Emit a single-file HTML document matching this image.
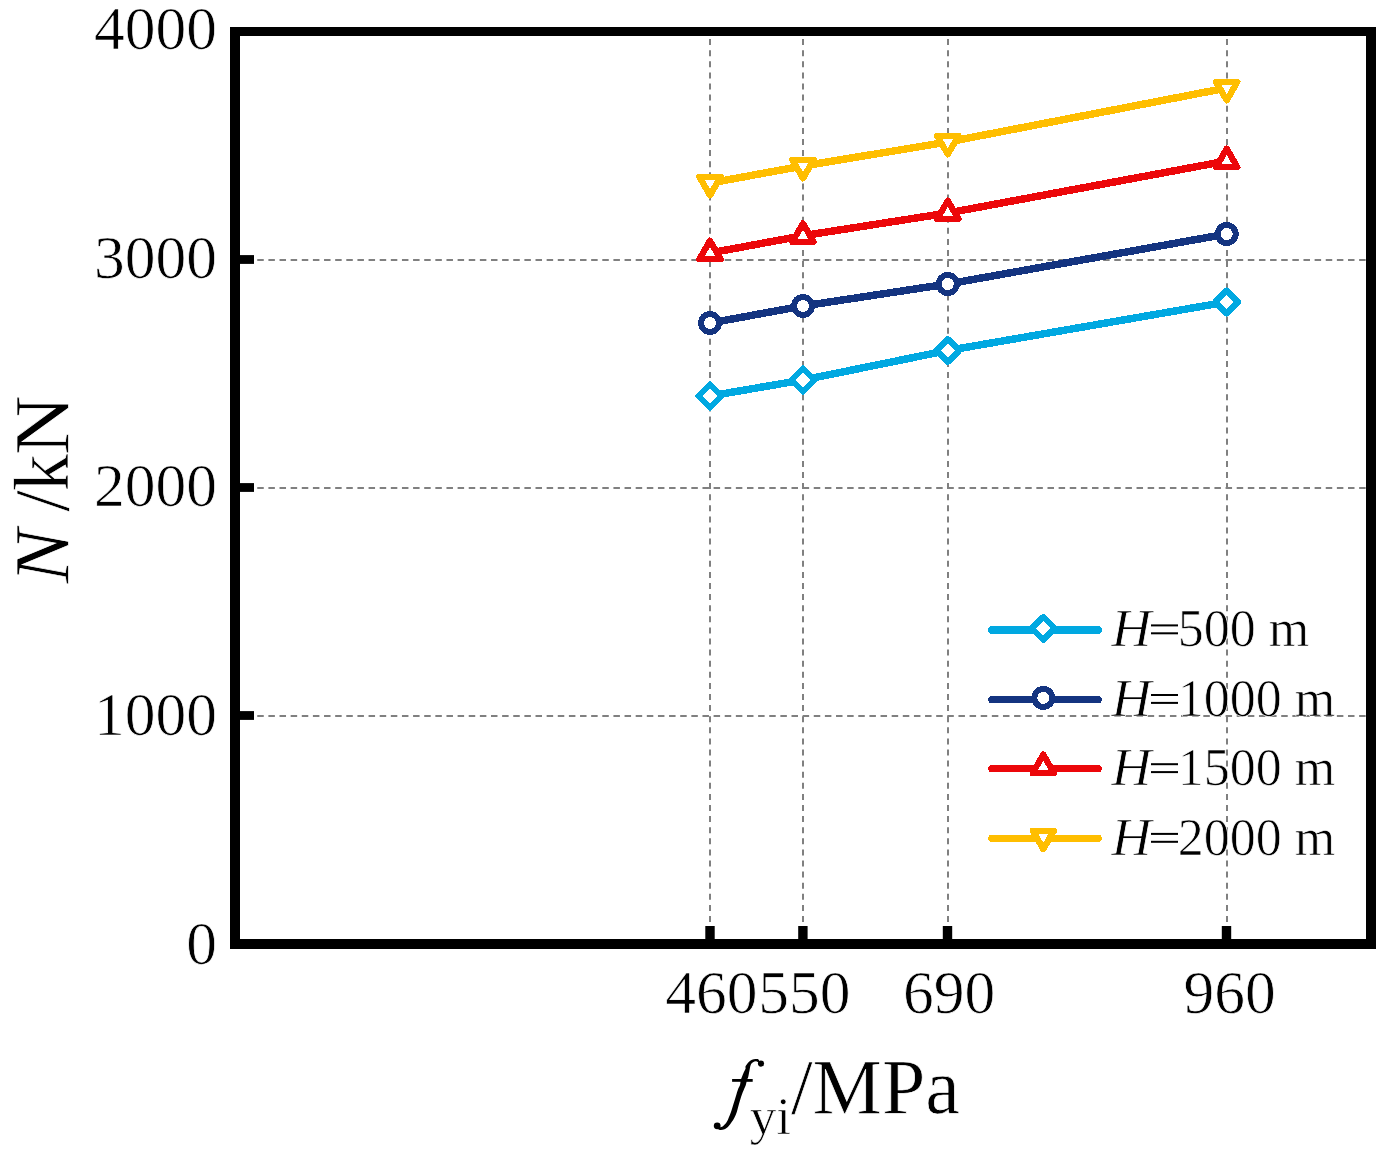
<!DOCTYPE html><html><head><meta charset="utf-8"><style>
html,body{margin:0;padding:0;background:#fff;}
svg{display:block;}
text{font-family:"Liberation Serif",serif;fill:#000;stroke:#fff;stroke-width:0.7px;}
</style></head><body>
<svg width="1391" height="1161" viewBox="0 0 1391 1161">
<g stroke="#808080" stroke-width="2" fill="none"><line x1="235" y1="260" x2="1366" y2="260" stroke-dasharray="6.5 4.63"/><line x1="235" y1="488" x2="1366" y2="488" stroke-dasharray="6.5 4.63"/><line x1="235" y1="716" x2="1366" y2="716" stroke-dasharray="6.5 4.63"/><line x1="710" y1="39.1" x2="710" y2="939" stroke-dasharray="6 5.1"/><line x1="803" y1="39.1" x2="803" y2="939" stroke-dasharray="6 5.1"/><line x1="948" y1="39.1" x2="948" y2="939" stroke-dasharray="6 5.1"/><line x1="1227" y1="39.1" x2="1227" y2="939" stroke-dasharray="6 5.1"/></g>
<polyline points="710.00,396.00 803.00,380.00 947.80,350.50 1226.70,302.00" fill="none" stroke="#00a8e1" stroke-width="7.5" stroke-linejoin="round" shape-rendering="crispEdges"/>
<polyline points="710.00,323.00 803.00,306.00 947.80,284.00 1226.70,234.00" fill="none" stroke="#143480" stroke-width="7.5" stroke-linejoin="round" shape-rendering="crispEdges"/>
<polyline points="710.00,253.00 803.00,235.70 947.80,213.00 1226.70,161.00" fill="none" stroke="#ec070a" stroke-width="7.5" stroke-linejoin="round" shape-rendering="crispEdges"/>
<polyline points="710.00,183.00 803.00,166.00 947.80,142.00 1226.70,88.00" fill="none" stroke="#ffbe00" stroke-width="7.5" stroke-linejoin="round" shape-rendering="crispEdges"/>
<path d="M710.00 384.50L721.50 396.00L710.00 407.50L698.50 396.00Z" fill="#fff" stroke="#00a8e1" stroke-width="6" stroke-linejoin="round" shape-rendering="crispEdges"/>
<path d="M803.00 368.50L814.50 380.00L803.00 391.50L791.50 380.00Z" fill="#fff" stroke="#00a8e1" stroke-width="6" stroke-linejoin="round" shape-rendering="crispEdges"/>
<path d="M947.80 339.00L959.30 350.50L947.80 362.00L936.30 350.50Z" fill="#fff" stroke="#00a8e1" stroke-width="6" stroke-linejoin="round" shape-rendering="crispEdges"/>
<path d="M1226.70 290.50L1238.20 302.00L1226.70 313.50L1215.20 302.00Z" fill="#fff" stroke="#00a8e1" stroke-width="6" stroke-linejoin="round" shape-rendering="crispEdges"/>
<circle cx="710.00" cy="323.00" r="9" fill="#fff" stroke="#143480" stroke-width="6" shape-rendering="crispEdges"/>
<circle cx="803.00" cy="306.00" r="9" fill="#fff" stroke="#143480" stroke-width="6" shape-rendering="crispEdges"/>
<circle cx="947.80" cy="284.00" r="9" fill="#fff" stroke="#143480" stroke-width="6" shape-rendering="crispEdges"/>
<circle cx="1226.70" cy="234.00" r="9" fill="#fff" stroke="#143480" stroke-width="6" shape-rendering="crispEdges"/>
<path d="M710.00 240.70L720.65 259.15L699.35 259.15Z" fill="#fff" stroke="#ec070a" stroke-width="6.3" stroke-linejoin="round" shape-rendering="crispEdges"/>
<path d="M803.00 223.40L813.65 241.85L792.35 241.85Z" fill="#fff" stroke="#ec070a" stroke-width="6.3" stroke-linejoin="round" shape-rendering="crispEdges"/>
<path d="M947.80 200.70L958.45 219.15L937.15 219.15Z" fill="#fff" stroke="#ec070a" stroke-width="6.3" stroke-linejoin="round" shape-rendering="crispEdges"/>
<path d="M1226.70 148.70L1237.35 167.15L1216.05 167.15Z" fill="#fff" stroke="#ec070a" stroke-width="6.3" stroke-linejoin="round" shape-rendering="crispEdges"/>
<path d="M710.00 195.30L720.65 176.85L699.35 176.85Z" fill="#fff" stroke="#ffbe00" stroke-width="6.3" stroke-linejoin="round" shape-rendering="crispEdges"/>
<path d="M803.00 178.30L813.65 159.85L792.35 159.85Z" fill="#fff" stroke="#ffbe00" stroke-width="6.3" stroke-linejoin="round" shape-rendering="crispEdges"/>
<path d="M947.80 154.30L958.45 135.85L937.15 135.85Z" fill="#fff" stroke="#ffbe00" stroke-width="6.3" stroke-linejoin="round" shape-rendering="crispEdges"/>
<path d="M1226.70 100.30L1237.35 81.85L1216.05 81.85Z" fill="#fff" stroke="#ffbe00" stroke-width="6.3" stroke-linejoin="round" shape-rendering="crispEdges"/>
<g fill="#000">
<rect x="230" y="27" width="1146" height="9"/>
<rect x="230" y="939" width="1146" height="10"/>
<rect x="230" y="27" width="10" height="922"/>
<rect x="1366" y="27" width="10" height="922"/>
<rect x="240" y="255.10" width="14" height="8.8"/>
<rect x="240" y="483.10" width="14" height="8.8"/>
<rect x="240" y="711.10" width="14" height="8.8"/>
<rect x="705.30" y="926" width="9.4" height="13"/>
<rect x="798.20" y="926" width="9.4" height="13"/>
<rect x="942.80" y="926" width="9.4" height="13"/>
<rect x="1221.80" y="926" width="9.4" height="13"/>
</g>
<text x="217" y="964.20" font-size="61.5" text-anchor="end">0</text>
<text x="217" y="735.20" font-size="61.5" text-anchor="end">1000</text>
<text x="217" y="506.20" font-size="61.5" text-anchor="end">2000</text>
<text x="217" y="278.10" font-size="61.5" text-anchor="end">3000</text>
<text x="217" y="49.20" font-size="61.5" text-anchor="end">4000</text>
<text x="711.30" y="1012.8" font-size="61.5" text-anchor="middle">460</text>
<text x="804.30" y="1012.8" font-size="61.5" text-anchor="middle">550</text>
<text x="949.00" y="1012.8" font-size="61.5" text-anchor="middle">690</text>
<text x="1229.50" y="1012.8" font-size="61.5" text-anchor="middle">960</text>
<g transform="translate(68.4,584) rotate(-90)"><text transform="translate(0.58,0) scale(1.05,1)" font-size="78" font-style="italic">N</text><text transform="translate(72.2,0) scale(1.0,1)" font-size="78" font-style="normal">/</text><text transform="translate(92.7,0) scale(0.955,1)" font-size="78" font-style="normal">k</text><text transform="translate(128.8,0) scale(1.067,1)" font-size="78" font-style="normal">N</text></g>
<text x="712" y="1112.5" font-size="78"><tspan font-style="italic" fill="transparent">f</tspan><tspan font-size="53" dx="16" dy="21">yi</tspan><tspan dy="-21">/MPa</tspan></text>
<path d="M745.50 1066.50C745.98 1065.43 747.42 1063.32 748.50 1062.20C749.58 1061.08 750.83 1060.33 752.00 1059.80C753.17 1059.27 754.42 1059.07 755.50 1059.00C756.58 1058.93 757.83 1058.82 758.50 1059.40C759.17 1059.98 759.92 1062.18 759.50 1062.50C759.08 1062.82 757.08 1061.33 756.00 1061.30C754.92 1061.27 753.88 1061.68 753.00 1062.30C752.12 1062.92 751.30 1063.55 750.70 1065.00C750.10 1066.45 749.82 1069.00 749.40 1071.00C748.98 1073.00 748.60 1075.50 748.20 1077.00C747.80 1078.50 747.40 1078.68 747.00 1080.00C746.60 1081.32 746.27 1083.43 745.80 1084.90C745.33 1086.37 744.97 1086.87 744.20 1088.80C743.43 1090.73 742.08 1093.92 741.20 1096.50C740.32 1099.08 739.63 1101.72 738.90 1104.30C738.17 1106.88 737.53 1109.82 736.80 1112.00C736.07 1114.18 735.35 1115.72 734.50 1117.40C733.65 1119.08 732.70 1120.62 731.70 1122.10C730.70 1123.58 729.70 1125.10 728.50 1126.30C727.30 1127.50 725.92 1128.68 724.50 1129.30C723.08 1129.92 721.17 1130.13 720.00 1130.00C718.83 1129.87 717.58 1128.93 717.50 1128.50C717.42 1128.07 718.58 1127.78 719.50 1127.40C720.42 1127.02 721.80 1127.08 723.00 1126.20C724.20 1125.32 725.73 1123.57 726.70 1122.10C727.67 1120.63 728.08 1119.08 728.80 1117.40C729.52 1115.72 730.23 1114.18 731.00 1112.00C731.77 1109.82 732.60 1106.88 733.40 1104.30C734.20 1101.72 735.00 1099.08 735.80 1096.50C736.60 1093.92 737.50 1090.73 738.20 1088.80C738.90 1086.87 739.57 1086.37 740.00 1084.90C740.43 1083.43 740.48 1081.32 740.80 1080.00C741.12 1078.68 741.47 1078.12 741.90 1077.00C742.33 1075.88 742.78 1074.70 743.40 1073.30C744.02 1071.90 745.25 1069.73 745.60 1068.60C745.95 1067.47 745.02 1067.57 745.50 1066.50Z" fill="#000"/><circle cx="761" cy="1063.6" r="3.1" fill="#000"/><circle cx="717.2" cy="1125.8" r="3.4" fill="#000"/><rect x="732.1" y="1079" width="20.6" height="2.8" fill="#000"/>
<line x1="992" y1="630" x2="1098" y2="630" stroke="#00a8e1" stroke-width="7.5" stroke-linecap="round" shape-rendering="crispEdges"/>
<path d="M1043.30 616.90L1054.80 628.40L1043.30 639.90L1031.80 628.40Z" fill="#fff" stroke="#00a8e1" stroke-width="6" stroke-linejoin="round" shape-rendering="crispEdges"/>
<text transform="translate(1111.5,646.10) scale(1.065,1)" font-size="52" font-style="italic">H</text>
<text x="1177.8" y="646.10" font-size="52">500 m</text>
<rect x="1151" y="624.40" width="27" height="2" fill="#000"/><rect x="1151" y="632.30" width="27" height="2" fill="#000"/>
<line x1="992" y1="699.5" x2="1098" y2="699.5" stroke="#143480" stroke-width="7.5" stroke-linecap="round" shape-rendering="crispEdges"/>
<circle cx="1043.30" cy="697.90" r="9" fill="#fff" stroke="#143480" stroke-width="6" shape-rendering="crispEdges"/>
<text transform="translate(1111.5,715.70) scale(1.065,1)" font-size="52" font-style="italic">H</text>
<text x="1177.8" y="715.70" font-size="52">1000 m</text>
<rect x="1151" y="694.00" width="27" height="2" fill="#000"/><rect x="1151" y="701.90" width="27" height="2" fill="#000"/>
<line x1="992" y1="768.5" x2="1098" y2="768.5" stroke="#ec070a" stroke-width="7.5" stroke-linecap="round" shape-rendering="crispEdges"/>
<path d="M1043.30 754.60L1053.95 773.05L1032.65 773.05Z" fill="#fff" stroke="#ec070a" stroke-width="6.3" stroke-linejoin="round" shape-rendering="crispEdges"/>
<text transform="translate(1111.5,784.90) scale(1.065,1)" font-size="52" font-style="italic">H</text>
<text x="1177.8" y="784.90" font-size="52">1500 m</text>
<rect x="1151" y="763.20" width="27" height="2" fill="#000"/><rect x="1151" y="771.10" width="27" height="2" fill="#000"/>
<line x1="992" y1="838.4" x2="1098" y2="838.4" stroke="#ffbe00" stroke-width="7.5" stroke-linecap="round" shape-rendering="crispEdges"/>
<path d="M1043.30 849.10L1053.95 830.65L1032.65 830.65Z" fill="#fff" stroke="#ffbe00" stroke-width="6.3" stroke-linejoin="round" shape-rendering="crispEdges"/>
<text transform="translate(1111.5,854.60) scale(1.065,1)" font-size="52" font-style="italic">H</text>
<text x="1177.8" y="854.60" font-size="52">2000 m</text>
<rect x="1151" y="832.90" width="27" height="2" fill="#000"/><rect x="1151" y="840.80" width="27" height="2" fill="#000"/>
</svg></body></html>
